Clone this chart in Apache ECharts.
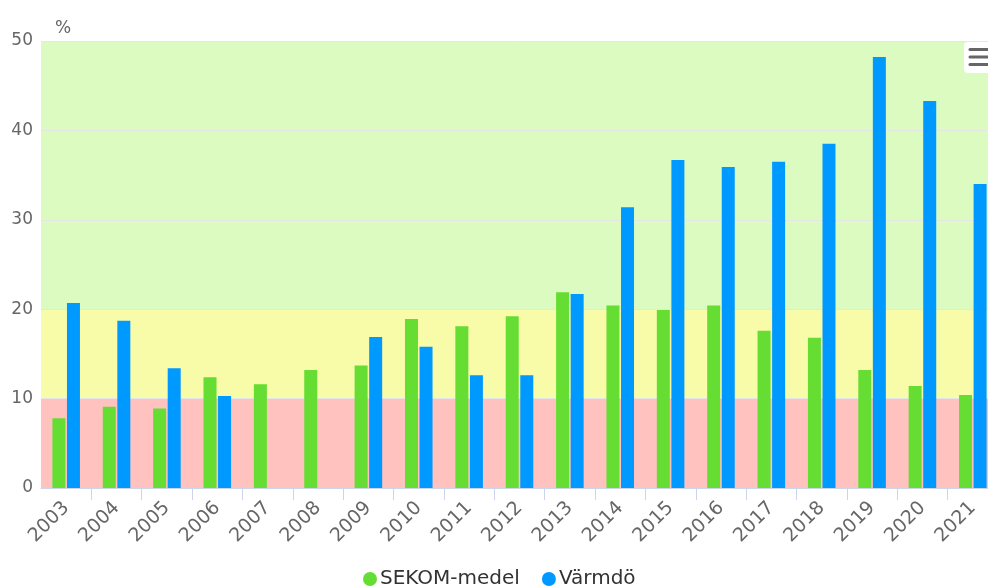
<!DOCTYPE html>
<html>
<head>
<meta charset="utf-8">
<script src="https://cdn.jsdelivr.net/npm/echarts@6/dist/echarts.min.js"></script>
<style>
html,body{margin:0;padding:0;background:#fff;overflow:hidden;width:988px;height:586px;}
#c{width:998px;height:586px;}
</style>
</head>
<body>
<div id="c"></div>
<script>
var years = ['2003','2004','2005','2006','2007','2008','2009','2010','2011','2012','2013','2014','2015','2016','2017','2018','2019','2020','2021'];
var sekom = [7.8, 9.1, 8.9, 12.4, 11.6, 13.2, 13.7, 18.9, 18.1, 19.2, 21.9, 20.4, 19.9, 20.4, 17.6, 16.8, 13.2, 11.4, 10.4];
var varmdo = [20.7, 18.7, 13.4, 10.3, null, null, 16.9, 15.8, 12.6, 12.6, 21.7, 31.4, 36.7, 35.9, 36.5, 38.5, 48.2, 43.3, 34.0];
var yTicks = [0, 10, 20, 30, 40, 50];
var bands = [
  {from: 0, to: 10, color: '#FFC2BF'},
  {from: 10, to: 20, color: '#F8FBA8'},
  {from: 20, to: 50, color: '#DCFBC1'}
];

var chart = echarts.init(document.getElementById('c'), null, {renderer: 'canvas'});
var font = 'DejaVu Sans';
chart.setOption({
  animation: false,
  backgroundColor: '#ffffff',
  textStyle: {fontFamily: font},
  grid: {left: 41, right: 0, top: 41, bottom: 98, containLabel: false},
  legend: {
    data: ['SEKOM-medel', 'Värmdö'],
    left: 358, top: 564,
    icon: 'circle', itemWidth: 14, itemHeight: 14, itemGap: 22,
    textStyle: {fontFamily: font, fontSize: 20, color: '#333333', padding: [0,0,0,-2]}
  },
  xAxis: {
    type: 'category', data: years, z: 3,
    axisLine: {lineStyle: {color: '#ccd6eb', width: 1}},
    axisTick: {show: true, length: 12, lineStyle: {color: '#ccd6eb'}, interval: function(i){ return i !== 0; }},
    axisLabel: {rotate: 45, margin: 17, fontSize: 19, color: '#666666', fontFamily: font, interval: 0}
  },
  yAxis: {
    type: 'value', min: yTicks[0], max: yTicks[yTicks.length-1], interval: 10, z: 1.5,
    name: '%', nameLocation: 'end', nameGap: 4,
    nameTextStyle: {fontSize: 17, color: '#666666', fontFamily: font, align: 'left', padding: [0,0,0,14]},
    axisLine: {show: false}, axisTick: {show: false},
    axisLabel: {fontSize: 17, color: '#666666', fontFamily: font, margin: 8},
    splitLine: {lineStyle: {color: '#e6e6e6', width: 1}}
  },
  series: [
    {
      name: 'bands', type: 'line', data: [], z: 1, silent: true,
      markArea: {
        silent: true,
        data: bands.map(function(b){ return [{yAxis: b.from, itemStyle: {color: b.color}}, {yAxis: b.to}]; })
      }
    },
    {
      name: 'SEKOM-medel', type: 'bar', data: sekom, z: 2,
      barWidth: 13, barGap: '12%',
      itemStyle: {color: '#66DD33'}
    },
    {
      name: 'Värmdö', type: 'bar', data: varmdo, z: 2,
      barWidth: 13, barGap: '12%',
      itemStyle: {color: '#0099FF'}
    }
  ],
  graphic: [
    {type: 'rect', shape: {x: 964, y: 42, width: 32, height: 31, r: 4}, style: {fill: '#ffffff'}, z: 100},
    {type: 'line', shape: {x1: 970, y1: 49.5, x2: 994, y2: 49.5}, style: {stroke: '#666666', lineWidth: 3, lineCap: 'round'}, z: 101},
    {type: 'line', shape: {x1: 970, y1: 57, x2: 994, y2: 57}, style: {stroke: '#666666', lineWidth: 3, lineCap: 'round'}, z: 101},
    {type: 'line', shape: {x1: 970, y1: 64.5, x2: 994, y2: 64.5}, style: {stroke: '#666666', lineWidth: 3, lineCap: 'round'}, z: 101}
  ]
});
</script>
</body>
</html>
